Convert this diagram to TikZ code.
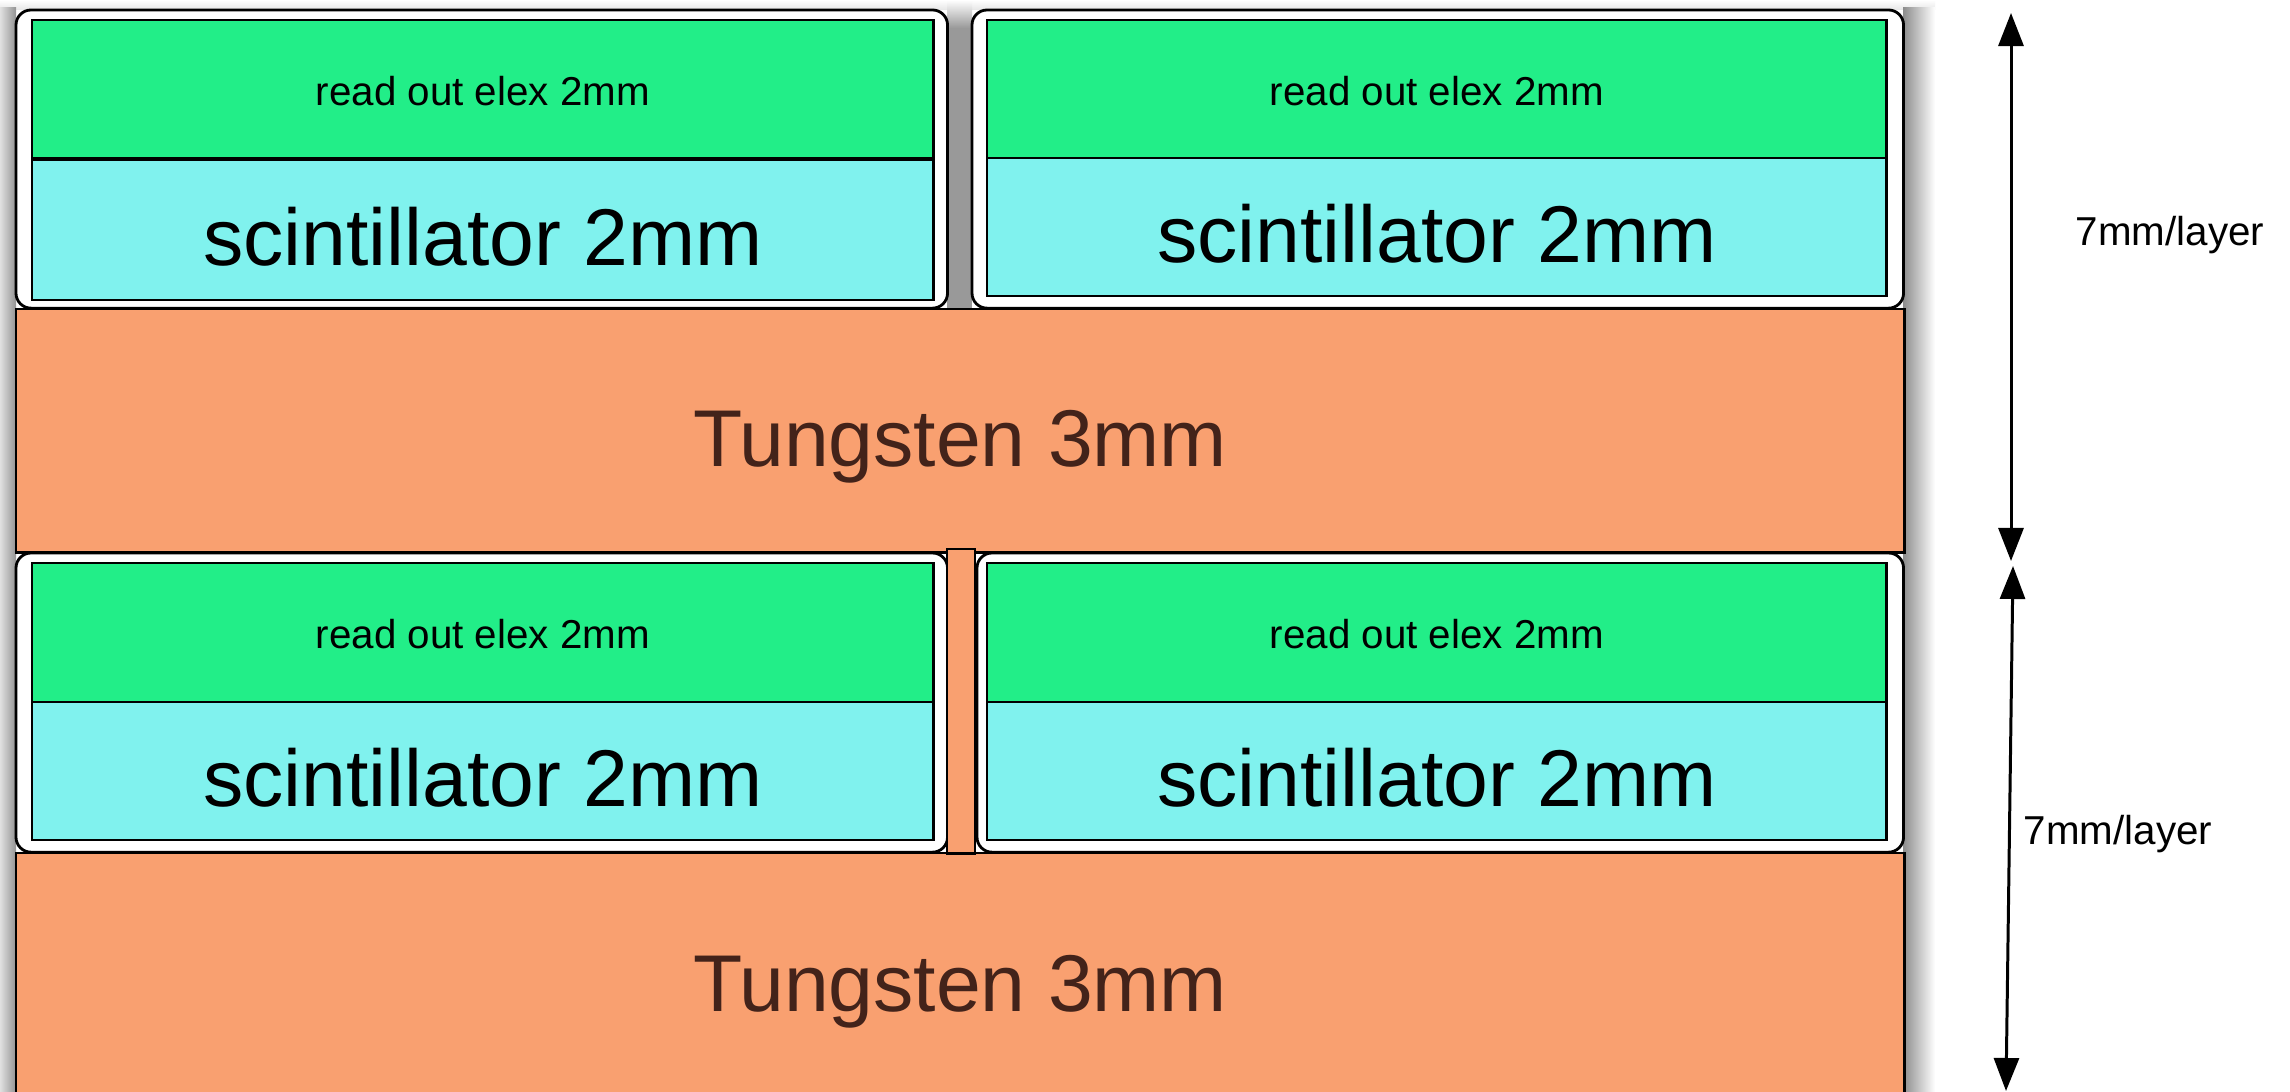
\documentclass[tikz,border=0pt]{standalone}
\usepackage{fontspec}
\setmainfont{Liberation Sans}
\usetikzlibrary{arrows.meta}
\definecolor{elexgreen}{RGB}{34,238,136}
\definecolor{scintcyan}{RGB}{128,242,238}
\definecolor{tungorange}{RGB}{249,160,112}
\definecolor{tungbrown}{RGB}{67,35,26}
\newcommand\fsmall{\fontsize{11.47pt}{13pt}\selectfont}
\newcommand\fbig{\fontsize{22.9pt}{26pt}\selectfont}
\tikzset{
  box/.style={draw=black, line width=0.8pt, inner sep=0pt, outer sep=0pt, anchor=north west},
  module/.style={box, fill=white, rounded corners=0.15cm},
  elex/.style={box, fill=elexgreen, font=\fsmall, text height=9.1pt, text depth=0pt},
  scint/.style={box, fill=scintcyan, font=\fbig, text height=20.2pt, text depth=0pt},
  tung/.style={box, fill=tungorange, text=tungbrown, font=\fbig, text height=20.2pt, text depth=0pt},
  dim/.style={line width=0.85pt, {Triangle[length=0.33cm,width=0.25cm]}-{Triangle[length=0.33cm,width=0.25cm]}},
  dimlabel/.style={font=\fsmall, inner sep=0pt}
}
\begin{document}
\begin{tikzpicture}[x=0.01cm,y=-0.01cm]
\useasboundingbox (0,0) rectangle (2290,1092);
\fill[white] (0,0) rectangle (2290,1092);
% shadows
\shade[top color=white, bottom color=black!10] (0,0) rectangle (1935,10);
\shade[left color=black!12, right color=black!42] (0,8) rectangle (16,1092);
\shade[left color=black!45, right color=white] (1903,8) rectangle (1935,1092);
\shade[top color=white, bottom color=black!40] (947,0) rectangle (972,28);
\fill[black!40] (947,28) rectangle (972,310);
% tungsten layers
\node[tung, minimum width=18.87cm, minimum height=2.43cm] (w1) at (16,309) {Tungsten 3mm};
\node[tung, minimum width=18.87cm, minimum height=2.45cm] (w2) at (16,853) {Tungsten 3mm};
% upper modules
\node[module, minimum width=9.31cm, minimum height=2.98cm] (mtl) at (16,10) {};
\node[elex, minimum width=9.01cm, minimum height=1.38cm] (etl) at (32,20) {read out elex 2mm};
\node[scint, minimum width=9.01cm, minimum height=1.40cm] (stl) at (32,160) {scintillator 2mm};
\node[module, minimum width=9.31cm, minimum height=2.98cm] (mtr) at (972,10) {};
\node[elex, minimum width=8.99cm, minimum height=1.38cm] (etr) at (987,20) {read out elex 2mm};
\node[scint, minimum width=8.99cm, minimum height=1.38cm] (str) at (987,158) {scintillator 2mm};
% lower modules
\node[module, minimum width=9.31cm, minimum height=2.99cm] (mbl) at (16,553) {};
\node[elex, minimum width=9.01cm, minimum height=1.39cm] (ebl) at (32,563) {read out elex 2mm};
\node[scint, minimum width=9.01cm, minimum height=1.38cm] (sbl) at (32,702) {scintillator 2mm};
\node[module, minimum width=9.26cm, minimum height=2.99cm] (mbr) at (977,553) {};
\node[elex, minimum width=8.99cm, minimum height=1.39cm] (ebr) at (987,563) {read out elex 2mm};
\node[scint, minimum width=8.99cm, minimum height=1.38cm] (sbr) at (987,702) {scintillator 2mm};
% separating bar
\node[box, fill=tungorange, minimum width=0.28cm, minimum height=3.04cm] (bar) at (947,549) {};
% dimension arrows
\coordinate (a1t) at (2011,13);
\coordinate (a1b) at (2011,561);
\coordinate (a2t) at (2013,566);
\coordinate (a2b) at (2006,1091);
\draw[dim] (a1t) -- (a1b);
\draw[dim] (a2t) -- (a2b);
\node[dimlabel] (l1) at (2170,235) {7mm/layer};
\node[dimlabel] (l2) at (2118,834) {7mm/layer};
\end{tikzpicture}
\end{document}
